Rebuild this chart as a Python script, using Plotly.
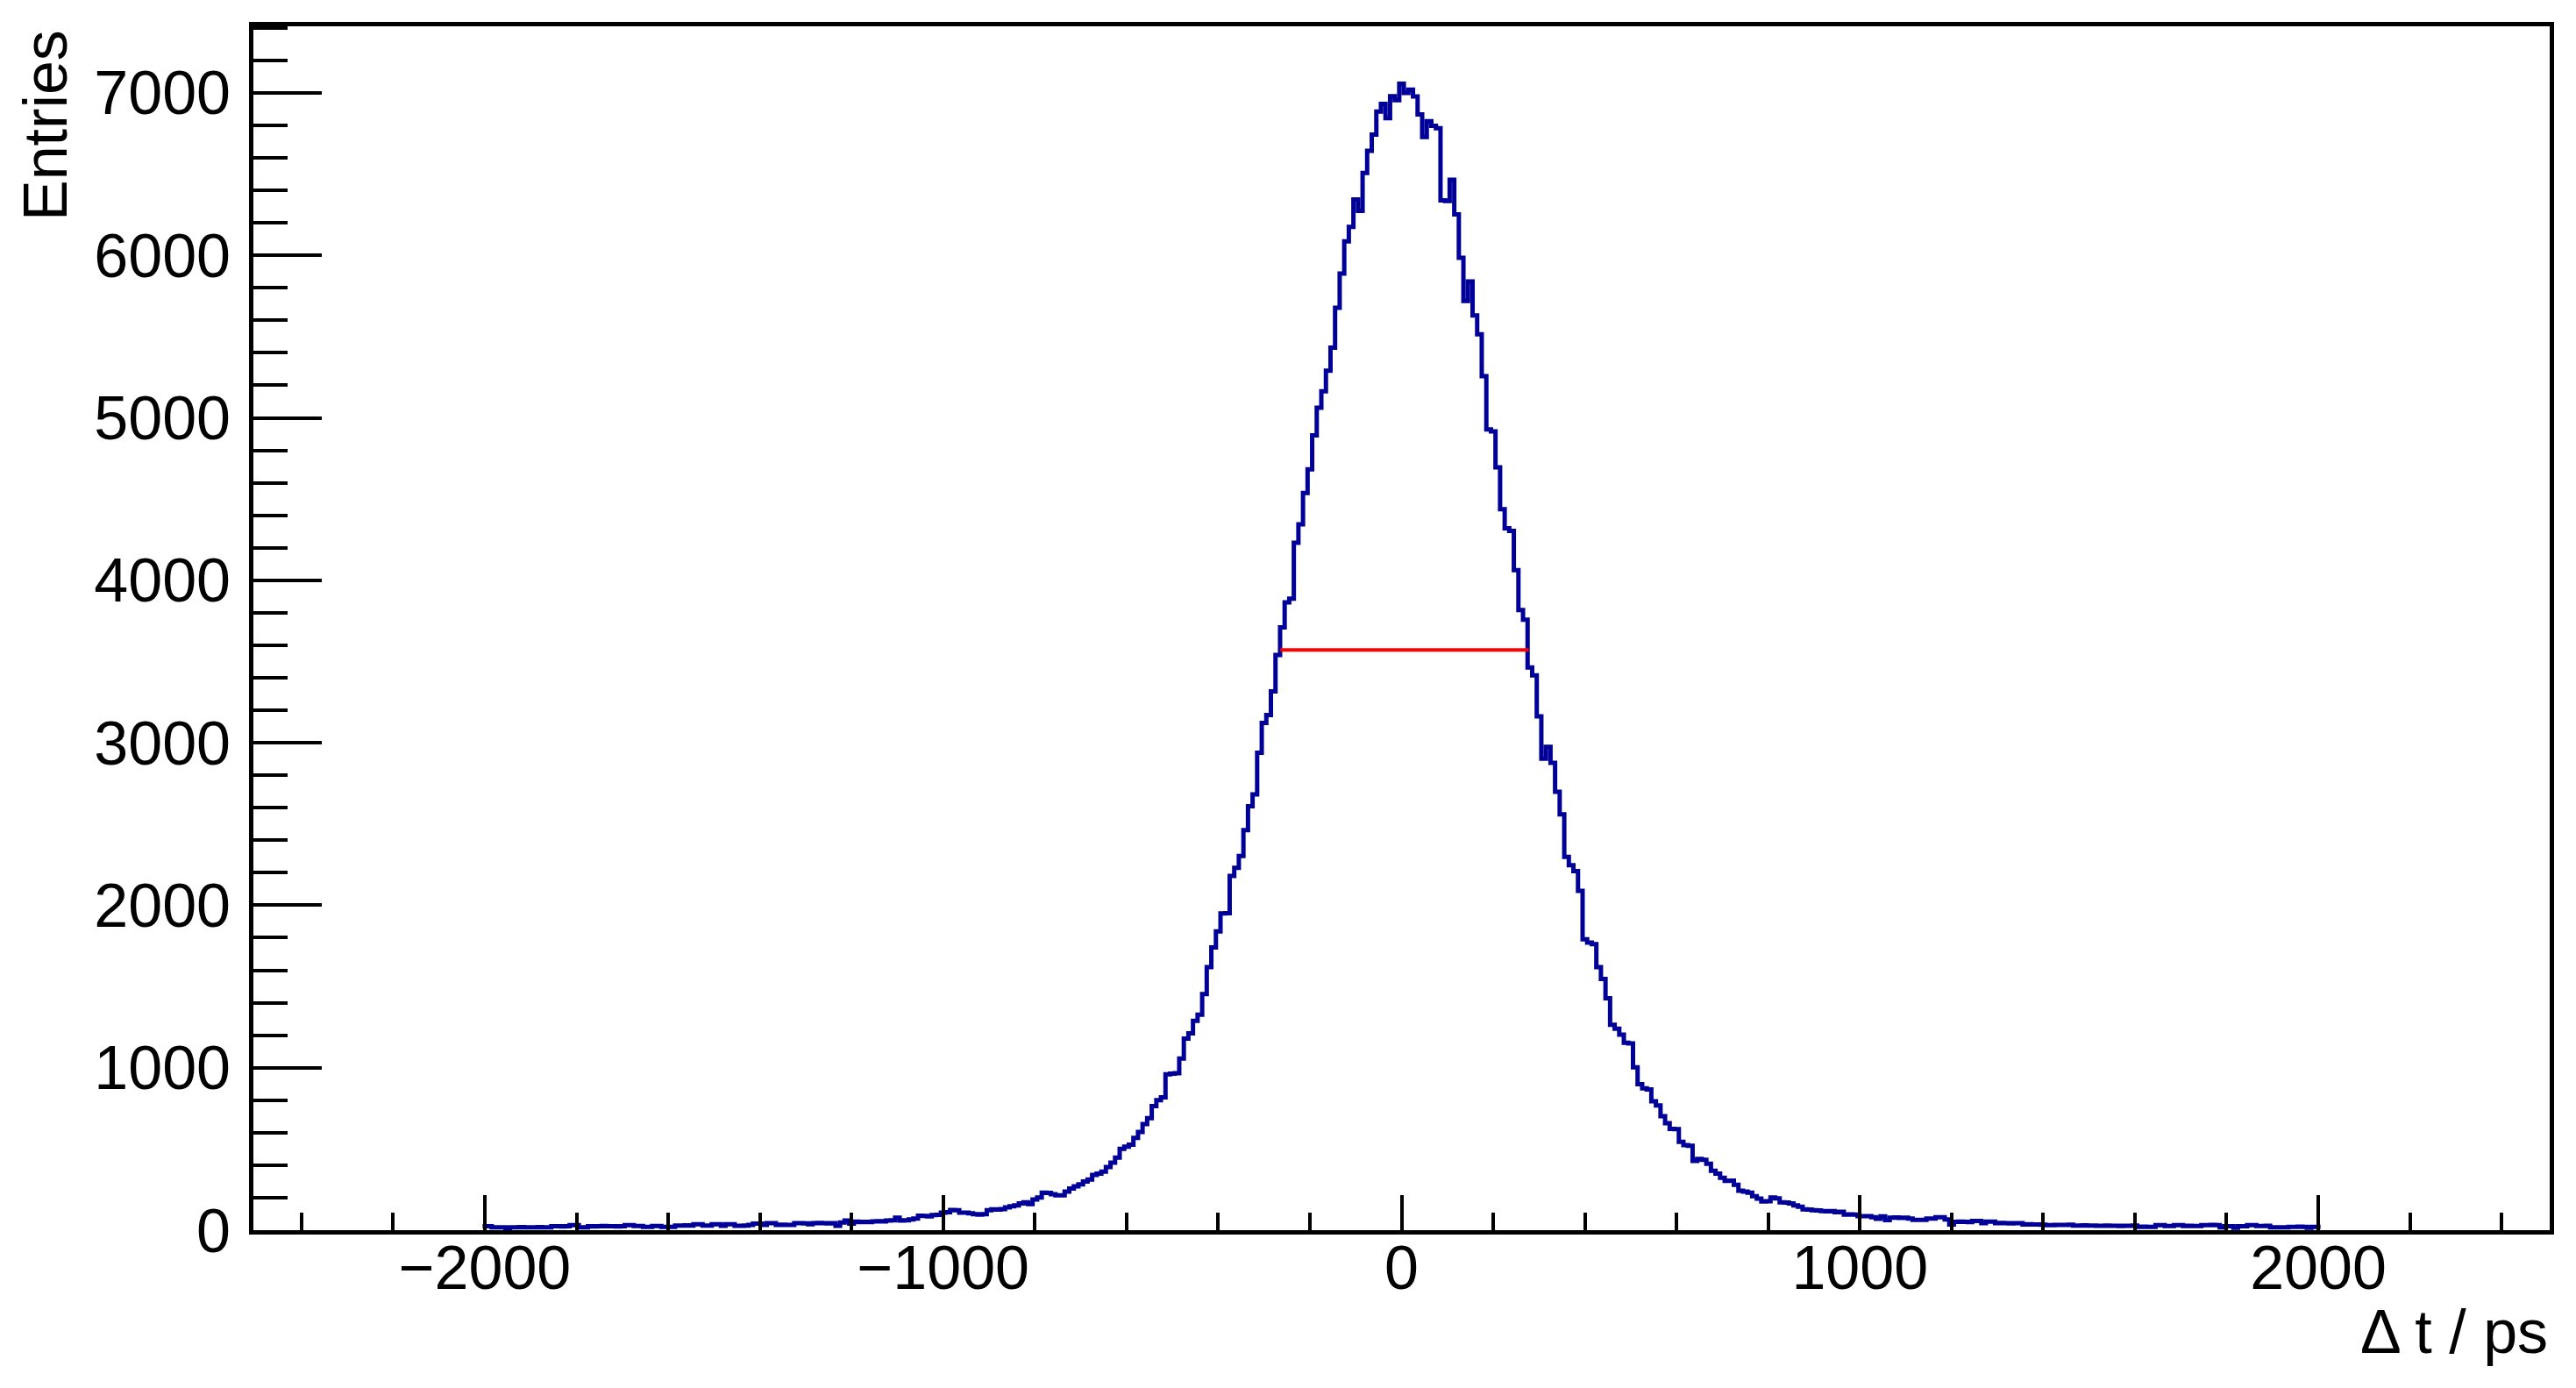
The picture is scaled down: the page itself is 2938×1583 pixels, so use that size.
import numpy as np
import plotly.graph_objects as go

# Histogram: 401 bins of 10 ps, centred on -2000 ... 2000 ps
bin_width = 10
bin_centers = np.arange(-2000, 2001, bin_width)

# Entries, bin by bin
left_tail = [  # -2000 ... -960
    24, 24, 18, 18, 18, 12,
    18, 17, 19, 18, 18, 17, 19, 18, 18,
    24, 24, 23, 24, 31, 31, 18, 18,
    24, 23, 24, 25, 24, 24, 23, 24,
    31, 31, 26, 26, 20, 20, 26, 26, 20, 20, 20,
    29, 29, 30, 29, 37, 37, 29, 29, 37, 37, 27, 37, 37,
    27, 27, 28, 33, 41, 41, 33, 43, 43,
    33, 34, 33, 33, 43, 43, 42, 37,
    43, 44, 43, 42, 43, 27, 47, 60, 40, 52,
    50, 51, 50, 54, 55, 54, 60, 61, 77, 60, 61, 66, 72,
    89, 88, 85, 93, 94, 108, 110, 124, 123, 108,
]
left_slope = [  # -950 ... -280
    108, 104, 99, 96, 99,
    123, 128, 127, 129, 140,
    147, 152, 164, 172, 160,
    189, 201, 231, 230, 221,
    214, 215, 238, 257, 270,
    282, 299, 311, 340, 348,
    360, 389, 416, 446, 500,
    514, 526, 568, 605, 653,
    690, 763, 800, 817, 959,
    964, 966, 1057, 1179, 1211,
    1289, 1326, 1453, 1619, 1741,
    1839, 1949, 1951, 2181, 2230,
    2303, 2462, 2609, 2682, 2939,
    3122, 3171, 3317,
]
core = [  # -270 ... 270
    3540, 3710, 3864, 3887, 4231, 4344, 4538, 4683, 4893, 5062,
    5163, 5291, 5432, 5677, 5888, 6087, 6176, 6344, 6274, 6508,
    6644, 6744, 6885, 6933, 6844, 6980, 6955, 7057, 7000, 7020,
    6978, 6868, 6728, 6826, 6798, 6782, 6339, 6335, 6465, 6253,
    5985, 5720, 5840, 5631, 5514, 5256, 4929, 4917, 4695, 4437,
    4320, 4304, 4063, 3817, 3757,
]
right_slope = [  # 280 ... 930
    3464, 3415, 3163, 2902, 2975, 2877, 2699, 2560, 2298, 2247,
    2210, 2088, 1790, 1770, 1761, 1619, 1546, 1428, 1264, 1240,
    1203, 1154, 1149, 1003, 898, 873, 866, 793, 768, 702,
    658, 624, 622, 544, 524, 519, 426, 438, 433, 409,
    365, 348, 323, 304, 305, 279, 243, 238, 231, 209,
    194, 177, 178, 201, 196, 172, 170, 165, 152, 145,
    128, 127, 123, 121, 118, 116,
]
right_tail = [  # 940 ... 2000
    118, 110, 113, 96, 97, 96, 86, 87, 86,
    80, 70, 85, 62, 77, 78, 75, 77, 72,
    63, 64, 63, 72, 71, 80, 79, 66, 35,
    51, 52, 51, 50, 57, 57, 43, 53, 53,
    43, 44, 43, 42, 43, 43, 35, 36, 35, 35, 34,
    31, 31, 32, 33, 33, 34, 29, 29, 30, 29, 29,
    27, 27, 28, 27, 27, 26, 27, 27, 28,
    20, 21, 20, 20, 31, 31, 26, 26, 31, 31,
    26, 27, 26, 26, 31, 31, 32, 31, 17,
    24, 24, 15, 24, 24, 31, 31, 26, 26, 27,
    17, 17, 18, 17, 20, 20, 21, 20, 15, 20, 20,
]
entries = left_tail + left_slope + core + right_slope + right_tail
assert len(entries) == len(bin_centers)

# FWHM marker (half maximum level and crossing points)
fwhm_x = [-264.5, 277.4]
fwhm_y = [3571, 3571]

# Axis / labels
x_title = "Δ t / ps"
y_title = "Entries"
x_range = [-2505, 2505]
y_range = [0, 7410]

# step outline: left edges + final right edge
edges = np.append(bin_centers - bin_width / 2, bin_centers[-1] + bin_width / 2)
step_y = entries + [entries[-1]]

# the page body has an 8 px margin, so the figure is 8 px smaller
OFF = 8
W, H = 2938 - OFF, 1583 - OFF
ML, MR, MT, MB = 289 - OFF, 30, 30 - OFF, 180
FONT = "Liberation Sans, Arial, Helvetica, sans-serif"

fig = go.Figure()
fig.add_trace(go.Scatter(
    x=edges, y=step_y, mode="lines", line_shape="hv",
    line=dict(color="#000099", width=5), showlegend=False, hoverinfo="skip",
))
fig.add_trace(go.Scatter(
    x=fwhm_x, y=fwhm_y, mode="lines",
    line=dict(color="#ff0000", width=4), showlegend=False, hoverinfo="skip",
))

axis_common = dict(
    showgrid=False, zeroline=False, showline=True, linecolor="black",
    linewidth=5, mirror=True, ticks="inside", tickcolor="black", tickwidth=4,
    tickfont=dict(family=FONT, size=70, color="black"),
)
fig.update_xaxes(
    **axis_common, range=x_range, tickmode="linear", tick0=0, dtick=1000,
    ticklen=40, minor=dict(ticks="inside", dtick=200, tick0=0, ticklen=20,
                           tickwidth=4, tickcolor="black"),
    ticklabelstandoff=-22,
)
fig.update_yaxes(
    **axis_common, range=y_range, tickmode="linear", tick0=0, dtick=1000,
    ticklen=78, minor=dict(ticks="inside", dtick=200, tick0=0, ticklen=39,
                           tickwidth=4, tickcolor="black"),
    ticklabelstandoff=7,
)

plot_h = H - MT - MB
plot_w = W - ML - MR
plot_bottom = H - MB
fig.add_annotation(
    text=y_title, textangle=-90, xref="paper", yref="paper",
    x=(52 - OFF - ML) / plot_w, y=(plot_bottom - (32 - OFF)) / plot_h,
    xanchor="center", yanchor="top", showarrow=False,
    font=dict(family=FONT, size=70, color="black"),
)
fig.add_annotation(
    text=x_title, xref="paper", yref="paper",
    x=(2908 - OFF - ML) / plot_w, y=-((1519 - OFF) - plot_bottom) / plot_h,
    xanchor="right", yanchor="middle", showarrow=False,
    font=dict(family=FONT, size=70, color="black"),
)

fig.update_layout(
    width=W, height=H, margin=dict(l=ML, r=MR, t=MT, b=MB, pad=0),
    plot_bgcolor="white", paper_bgcolor="white",
)
fig.write_html("out.html")
